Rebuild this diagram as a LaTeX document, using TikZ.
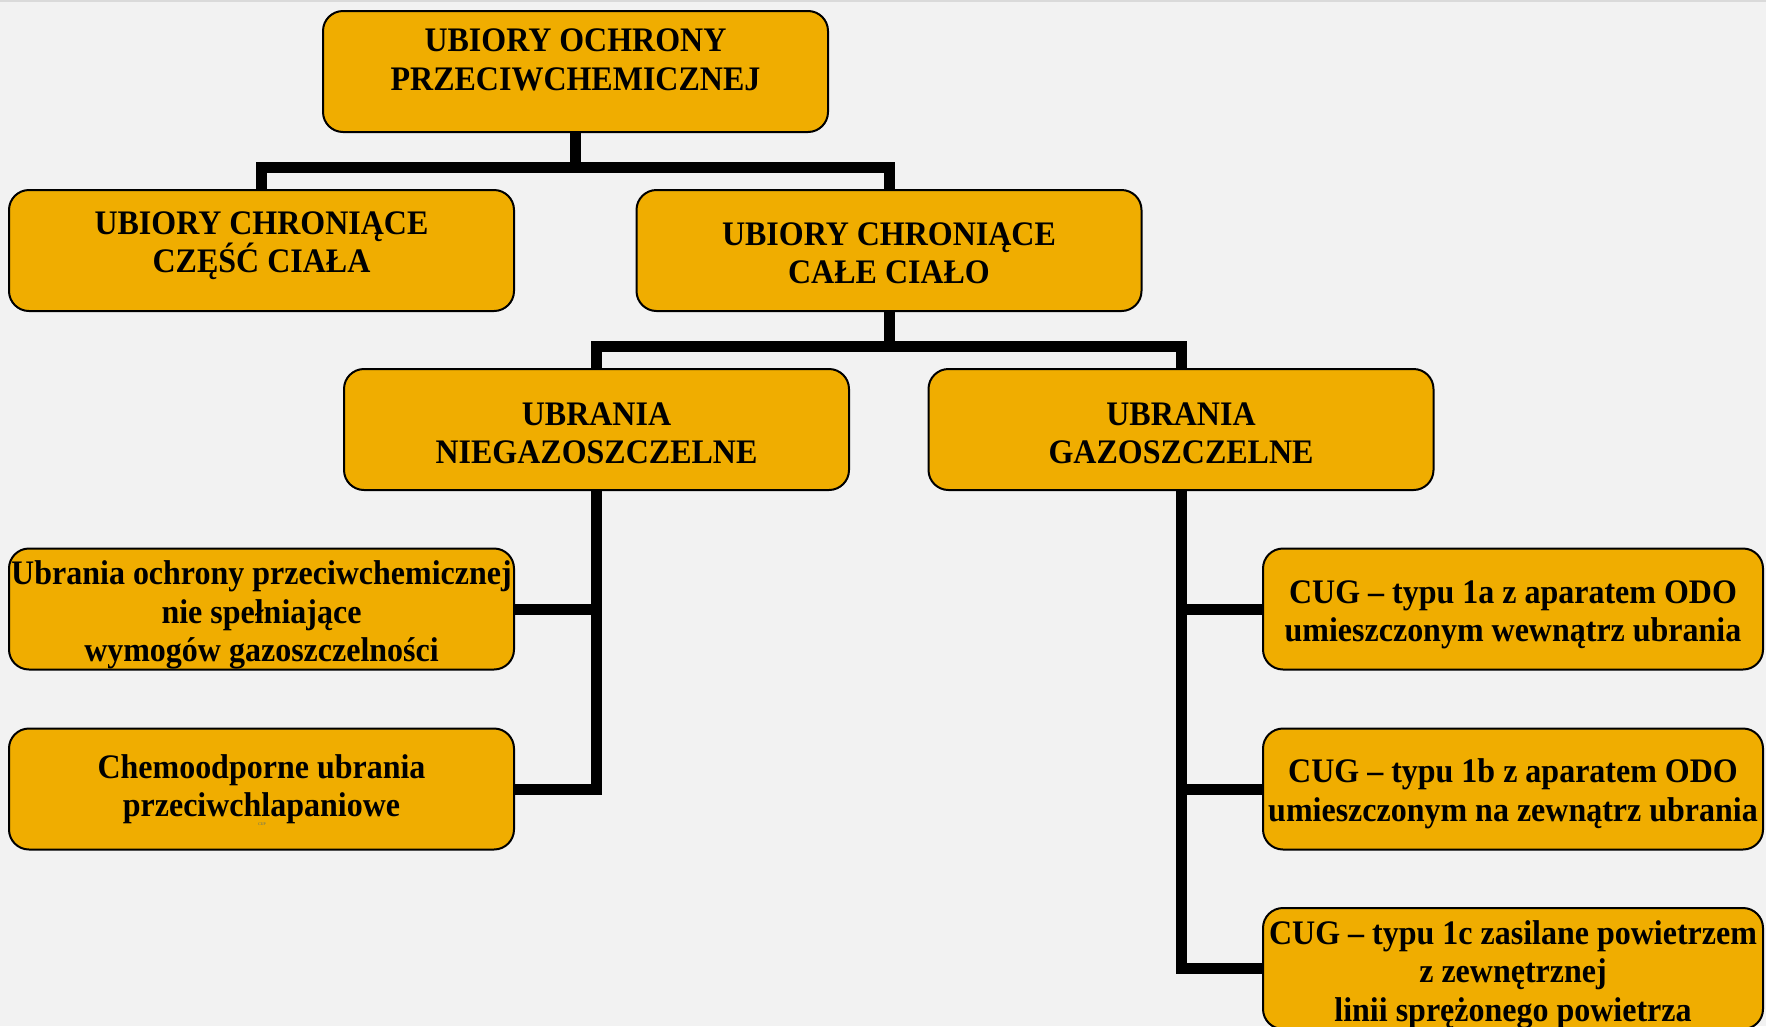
\documentclass[tikz,border=0pt]{standalone}
\usepackage{fontspec}
\setmainfont{Liberation Serif}[FakeStretch=0.93]
\definecolor{boxfill}{RGB}{240,173,0}
\definecolor{bgcol}{RGB}{242,242,242}
\definecolor{topline}{RGB}{218,218,218}
\definecolor{cupcol}{RGB}{60,100,130}
\begin{document}
\begin{tikzpicture}[x=1pt,y=-1pt,
  txtfont/.style={font=\bfseries\fontsize{34.4}{38.5}\selectfont},
  box/.style={draw=black, line width=2pt, fill=boxfill, rounded corners=20pt,
    minimum width=505pt, minimum height=121pt, inner sep=0pt},
  rbox/.style={box, minimum width=500pt},
  lbl/.style={inner sep=0pt, align=center, txtfont},
  conn/.style={draw=black, line width=11pt, line join=miter}]
\useasboundingbox (0,0) rectangle (1766,1026);
\fill[bgcol] (0,0) rectangle (1766,1026);
\fill[topline] (0,0) rectangle (1766,2);

% boxes
\node[box] (top) at (575.5,71.5) {};
\node[lbl] (topt) at ([yshift=11.5pt]top.center) {UBIORY OCHRONY\\PRZECIWCHEMICZNEJ};
\node[box] (cz) at (261.5,250.5) {};
\node[lbl] (czt) at ([yshift=5pt]cz.center) {UBIORY CHRONIĄCE\\CZĘŚĆ CIAŁA};
\node[box] (cc) at (889,250.5) {};
\node[lbl] (cct) at ([yshift=-3pt]cc.center) {UBIORY CHRONIĄCE\\CAŁE CIAŁO};
\node[box] (ng) at (596.5,429.5) {};
\node[lbl] (ngt) at ([yshift=-4pt]ng.center) {UBRANIA\\NIEGAZOSZCZELNE};
\node[box] (gz) at (1181,429.5) {};
\node[lbl] (gzt) at ([yshift=-4pt]gz.center) {UBRANIA\\GAZOSZCZELNE};
\node[box] (l1) at (261.5,609) {};
\node[lbl] (l1t) at ([yshift=-6pt]l1.center) {Ubrania ochrony przeciwchemicznej\\nie spełniające\\wymogów gazoszczelności};
\node[box] (l2) at (261.5,789) {};
\node[lbl] (l2t) at (l2.center) {Chemoodporne ubrania\\przeciwchlapaniowe};
\node[font=\fontsize{4}{4}\selectfont, text=cupcol, inner sep=0pt] (cup) at (262,824) {CUP};
\node[rbox] (r1) at (1513,609) {};
\node[lbl] (r1t) at ([yshift=-6pt]r1.center) {CUG – typu 1a z aparatem ODO\\umieszczonym wewnątrz ubrania};
\node[rbox] (r2) at (1513,789) {};
\node[lbl] (r2t) at ([yshift=-5pt]r2.center) {CUG – typu 1b z aparatem ODO\\umieszczonym na zewnątrz ubrania};
\node[rbox] (r3) at (1513,968.5) {};
\node[lbl] (r3t) at ([yshift=-6pt]r3.center) {CUG – typu 1c zasilane powietrzem\\z zewnętrznej\\linii sprężonego powietrza};

% connectors
\coordinate (b1) at (575.5,167);
\draw[conn] (top.south) -- (b1);
\draw[conn] (cz.north) |- (b1) -| (cc.north);
\coordinate (b2) at (889,346);
\draw[conn] (cc.south) -- (b2);
\draw[conn] (ng.north) |- (b2) -| (gz.north);
\draw[conn] (ng.south) |- (l2.east);
\draw[conn] (l1.east) -- (ng.south |- l1.east);
\draw[conn] (gz.south) |- (r3.west);
\draw[conn] (r1.west) -- (gz.south |- r1.west);
\draw[conn] (r2.west) -- (gz.south |- r2.west);
\end{tikzpicture}
\end{document}
